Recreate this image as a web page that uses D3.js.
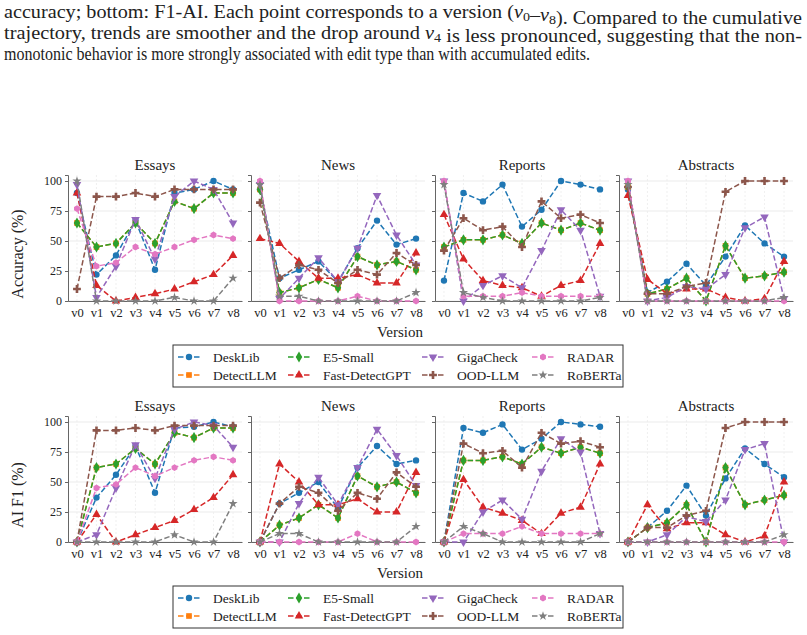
<!DOCTYPE html>
<html>
<head>
<meta charset="utf-8">
<script src="https://cdn.jsdelivr.net/npm/d3@7"></script>
<style>
  body { margin: 0; background: #fff; }
  svg text { font-family: "Liberation Serif", "Times New Roman", Times, serif; fill: #222; }
</style>
</head>
<body>
<div id="chart"></div>
<script>
// versions and detectors
const versions = ["v0", "v1", "v2", "v3", "v4", "v5", "v6", "v7", "v8"];
const detectors = ["DeskLib", "DetectLLM", "E5-Small", "Fast-DetectGPT", "GigaCheck", "OOD-LLM", "RADAR", "RoBERTa"];
const domains = ["Essays", "News", "Reports", "Abstracts"];
const yTicks = [0, 25, 50, 75, 100];

// top row: accuracy (%)
const accEssays = {
    "DeskLib":        [90, 22, 38, 67, 26, 90, 93, 100, 93],
    "DetectLLM":      [65, 45, 48, 65, 48, 83, 77, 90, 90],
    "E5-Small":       [65, 45, 48, 65, 48, 83, 77, 90, 90],
    "Fast-DetectGPT": [90, 13, 0, 3, 6, 10, 16, 22, 38],
    "GigaCheck":      [97, 3, 29, 68, 35, 87, 100, 93, 65],
    "OOD-LLM":        [10, 87, 87, 90, 87, 93, 93, 93, 93],
    "RADAR":          [77, 29, 32, 45, 39, 45, 51, 55, 52],
    "RoBERTa":        [100, 0, 0, 0, 0, 3, 0, 0, 19]
};
const accNews = {
    "DeskLib":        [93, 19, 26, 33, 16, 44, 67, 47, 52],
    "DetectLLM":      [93, 7, 11, 18, 11, 37, 30, 33, 26],
    "E5-Small":       [93, 7, 11, 18, 11, 37, 30, 33, 26],
    "Fast-DetectGPT": [52, 48, 33, 19, 19, 22, 15, 15, 40],
    "GigaCheck":      [97, 2, 19, 36, 16, 44, 88, 55, 30],
    "OOD-LLM":        [82, 19, 30, 26, 15, 26, 22, 40, 30],
    "RADAR":          [100, 0, 0, 0, 0, 4, 0, 0, 0],
    "RoBERTa":        [97, 4, 4, 0, 0, 0, 0, 0, 7]
};
const accReports = {
    "DeskLib":        [17, 90, 83, 97, 62, 76, 100, 97, 93],
    "DetectLLM":      [45, 51, 51, 55, 48, 65, 59, 65, 59],
    "E5-Small":       [45, 51, 51, 55, 48, 65, 59, 65, 59],
    "Fast-DetectGPT": [72, 35, 17, 13, 11, 4, 13, 17, 48],
    "GigaCheck":      [100, 0, 13, 21, 11, 42, 76, 59, 4],
    "OOD-LLM":        [42, 69, 59, 62, 45, 83, 69, 72, 65],
    "RADAR":          [100, 4, 4, 4, 7, 4, 4, 4, 4],
    "RoBERTa":        [97, 7, 3, 0, 0, 0, 0, 0, 3]
};
const accAbstracts = {
    "DeskLib":        [93, 7, 16, 31, 13, 37, 63, 48, 37],
    "DetectLLM":      [95, 6, 10, 19, 0, 46, 19, 21, 24],
    "E5-Small":       [95, 6, 10, 19, 0, 46, 19, 21, 24],
    "Fast-DetectGPT": [88, 18, 6, 10, 10, 3, 0, 2, 33],
    "GigaCheck":      [100, 0, 3, 12, 10, 22, 61, 70, 2],
    "OOD-LLM":        [95, 6, 6, 12, 15, 91, 100, 100, 100],
    "RADAR":          [100, 0, 0, 0, 0, 0, 0, 0, 0],
    "RoBERTa":        [97, 0, 0, 0, 0, 0, 0, 0, 3]
};

// bottom row: AI F1 (%)
const f1Essays = {
    "DeskLib":        [0, 37, 56, 80, 41, 95, 96, 100, 96],
    "DetectLLM":      [0, 62, 65, 78, 65, 91, 87, 95, 95],
    "E5-Small":       [0, 62, 65, 78, 65, 91, 87, 95, 95],
    "Fast-DetectGPT": [0, 23, 0, 6, 12, 18, 27, 37, 56],
    "GigaCheck":      [0, 6, 45, 81, 53, 94, 100, 97, 79],
    "OOD-LLM":        [0, 93, 93, 95, 93, 97, 97, 97, 97],
    "RADAR":          [0, 45, 48, 62, 55, 62, 68, 71, 68],
    "RoBERTa":        [0, 0, 0, 0, 0, 6, 0, 0, 32]
};
const f1News = {
    "DeskLib":        [0, 32, 41, 50, 28, 62, 80, 65, 68],
    "DetectLLM":      [0, 14, 20, 31, 20, 55, 46, 50, 41],
    "E5-Small":       [0, 14, 20, 31, 20, 55, 46, 50, 41],
    "Fast-DetectGPT": [0, 65, 50, 31, 31, 36, 25, 25, 58],
    "GigaCheck":      [0, 0, 32, 54, 31, 62, 94, 72, 47],
    "OOD-LLM":        [0, 32, 46, 41, 26, 41, 36, 58, 46],
    "RADAR":          [0, 0, 0, 0, 0, 7, 0, 0, 0],
    "RoBERTa":        [0, 7, 7, 0, 0, 0, 0, 0, 13]
};
const f1Reports = {
    "DeskLib":        [0, 95, 91, 98, 77, 86, 100, 98, 96],
    "DetectLLM":      [0, 68, 68, 71, 65, 79, 74, 79, 74],
    "E5-Small":       [0, 68, 68, 71, 65, 79, 74, 79, 74],
    "Fast-DetectGPT": [0, 52, 29, 24, 18, 7, 24, 29, 65],
    "GigaCheck":      [0, 0, 25, 35, 19, 59, 86, 75, 7],
    "OOD-LLM":        [0, 82, 74, 76, 62, 91, 82, 84, 79],
    "RADAR":          [0, 7, 7, 7, 13, 7, 7, 7, 7],
    "RoBERTa":        [0, 13, 7, 0, 0, 0, 0, 0, 7]
};
const f1Abstracts = {
    "DeskLib":        [0, 12, 26, 47, 22, 53, 78, 65, 54],
    "DetectLLM":      [0, 12, 16, 31, 0, 62, 31, 35, 39],
    "E5-Small":       [0, 12, 16, 31, 0, 62, 31, 35, 39],
    "Fast-DetectGPT": [0, 31, 11, 16, 16, 6, 0, 5, 50],
    "GigaCheck":      [0, 0, 6, 21, 17, 35, 77, 82, 0],
    "OOD-LLM":        [0, 12, 12, 22, 26, 95, 100, 100, 100],
    "RADAR":          [0, 0, 0, 0, 0, 0, 0, 0, 0],
    "RoBERTa":        [0, 0, 0, 0, 0, 0, 0, 0, 6]
};

const rows = [
    { label: "Accuracy (%)", data: [accEssays, accNews, accReports, accAbstracts] },
    { label: "AI F1 (%)", data: [f1Essays, f1News, f1Reports, f1Abstracts] }
];

// tab10 colours, one marker per detector
const color = d3.scaleOrdinal()
    .domain(detectors)
    .range(["#1f77b4", "#ff7f0e", "#2ca02c", "#d62728", "#9467bd", "#8c564b", "#e377c2", "#7f7f7f"]);

const hexagon = {
    draw(ctx, size) {
        const r = Math.sqrt(size / 2.598);
        for (let i = 0; i < 6; i++) {
            const a = Math.PI / 3 * i + Math.PI / 6;
            if (i === 0) ctx.moveTo(r * Math.cos(a), r * Math.sin(a));
            else ctx.lineTo(r * Math.cos(a), r * Math.sin(a));
        }
        ctx.closePath();
    }
};
const markers = {
    "DeskLib":        { type: d3.symbolCircle, size: 32, rot: 0 },
    "DetectLLM":      { type: d3.symbolSquare, size: 32, rot: 0 },
    "E5-Small":       { type: d3.symbolDiamond, size: 36, rot: 0 },
    "Fast-DetectGPT": { type: d3.symbolTriangle, size: 32, rot: 0 },
    "GigaCheck":      { type: d3.symbolTriangle, size: 32, rot: 180 },
    "OOD-LLM":        { type: d3.symbolCross, size: 34, rot: 0 },
    "RADAR":          { type: hexagon, size: 30, rot: 0 },
    "RoBERTa":        { type: d3.symbolStar, size: 26, rot: 0 }
};
const symbolPath = name => d3.symbol().type(markers[name].type).size(markers[name].size)();

// layout
const width = 807, height = 635;
const panelX = [68, 251, 435, 619];
const panelW = 174, panelH = 126;
const rowTop = [175, 416];

const svg = d3.select("#chart")
    .append("svg")
    .attr("width", width)
    .attr("height", height);

// caption text above the figure (justified lines)
const caption = svg.append("g");
function captionLine(y, parts, len) {
    const t = caption.append("text")
        .attr("x", 4)
        .attr("y", y)
        .style("font-size", "18px")
        .attr("textLength", len)
        .attr("lengthAdjust", "spacingAndGlyphs");
    parts.forEach(p => {
        if (typeof p === "string") t.append("tspan").text(p);
        else {
            t.append("tspan").style("font-style", "italic").text("v");
            t.append("tspan").attr("dy", 3).style("font-size", "12.5px").text(p.sub);
            t.append("tspan").attr("dy", -3).text("");
        }
    });
}
captionLine(18, ["accuracy; bottom: F1-AI. Each point corresponds to a version (", { sub: "0" }, "\u2013", { sub: "8" }, "). Compared to the cumulative"], 798);
captionLine(39, ["trajectory, trends are smoother and the drop around ", { sub: "4" }, " is less pronounced, suggesting that the non-"], 798);
captionLine(60, ["monotonic behavior is more strongly associated with edit type than with accumulated edits."], 586);

const x = d3.scalePoint()
    .domain(versions)
    .range([0, panelW])
    .padding(0.46);

const y = d3.scaleLinear()
    .domain([0, 105])
    .range([panelH, 0]);

const line = d3.line()
    .x((d, i) => x(versions[i]))
    .y(d => y(d));

rows.forEach((row, ri) => {
    const top = rowTop[ri];

    row.data.forEach((panelData, pi) => {
        const g = svg.append("g")
            .attr("transform", `translate(${panelX[pi]}, ${top})`);

        // grid
        g.selectAll(".hgrid")
            .data(yTicks)
            .enter()
            .append("line")
            .attr("x1", 0).attr("x2", panelW)
            .attr("y1", d => y(d)).attr("y2", d => y(d))
            .attr("stroke", "#ebebeb")
            .attr("stroke-width", 1);
        g.selectAll(".vgrid")
            .data(versions)
            .enter()
            .append("line")
            .attr("x1", d => x(d)).attr("x2", d => x(d))
            .attr("y1", 0).attr("y2", panelH)
            .attr("stroke", "#ececec")
            .attr("stroke-width", 0.8)
            .attr("stroke-dasharray", "2,2");

        // axes
        const yAxis = d3.axisLeft(y).tickValues(yTicks).tickSize(3).tickPadding(3);
        if (pi > 0) yAxis.tickFormat("");
        const ya = g.append("g").call(yAxis).attr("font-family", null);
        ya.select(".domain").attr("stroke", "#666");
        ya.selectAll(".tick line").attr("stroke", "#666");
        ya.selectAll(".tick text")
            .style("font-size", "12px")
            .attr("fill", "#333");

        const xa = g.append("g")
            .attr("transform", `translate(0, ${panelH})`)
            .call(d3.axisBottom(x).tickSize(0).tickPadding(7))
            .attr("font-family", null);
        xa.select(".domain").attr("stroke", "#666");
        xa.selectAll(".tick text")
            .style("font-size", "12.5px")
            .attr("fill", "#333");

        // title
        g.append("text")
            .attr("x", panelW / 2)
            .attr("y", -5)
            .attr("text-anchor", "middle")
            .style("font-size", "15px")
            .text(domains[pi]);

        // series
        detectors.forEach(name => {
            const vals = panelData[name];
            g.append("path")
                .datum(vals)
                .attr("d", line)
                .attr("fill", "none")
                .attr("stroke", color(name))
                .attr("stroke-width", 1.5)
                .attr("stroke-dasharray", "5.5,2.5");
            g.selectAll(null)
                .data(vals)
                .enter()
                .append("path")
                .attr("d", symbolPath(name))
                .attr("transform", (d, i) => `translate(${x(versions[i])}, ${y(d)}) rotate(${markers[name].rot})`)
                .attr("fill", color(name));
        });
    });

    // y label
    svg.append("text")
        .attr("transform", `translate(23, ${top + 79}) rotate(-90)`)
        .attr("text-anchor", "middle")
        .style("font-size", "16px")
        .text(row.label);

    // x label
    svg.append("text")
        .attr("x", 400)
        .attr("y", top + 162)
        .attr("text-anchor", "middle")
        .style("font-size", "15px")
        .text("Version");

    // legend
    const lg = svg.append("g").attr("transform", `translate(173, ${top + 170})`);
    lg.append("rect")
        .attr("width", 450)
        .attr("height", 42)
        .attr("fill", "#fff")
        .attr("stroke", "#333")
        .attr("stroke-width", 1);
    const colX = [5, 115, 249, 359];
    detectors.forEach((name, i) => {
        const cx = colX[Math.floor(i / 2)];
        const cy = 12 + (i % 2) * 18;
        const item = lg.append("g").attr("transform", `translate(${cx}, ${cy})`);
        item.append("line")
            .attr("x1", 0).attr("x2", 22)
            .attr("stroke", color(name))
            .attr("stroke-width", 1.5)
            .attr("stroke-dasharray", "5.5,2.5");
        item.append("path")
            .attr("d", symbolPath(name))
            .attr("transform", `translate(11, 0) rotate(${markers[name].rot})`)
            .attr("fill", color(name));
        item.append("text")
            .attr("x", 35)
            .attr("dy", "0.35em")
            .style("font-size", "13.5px")
            .text(name);
    });
});
</script>
</body>
</html>
